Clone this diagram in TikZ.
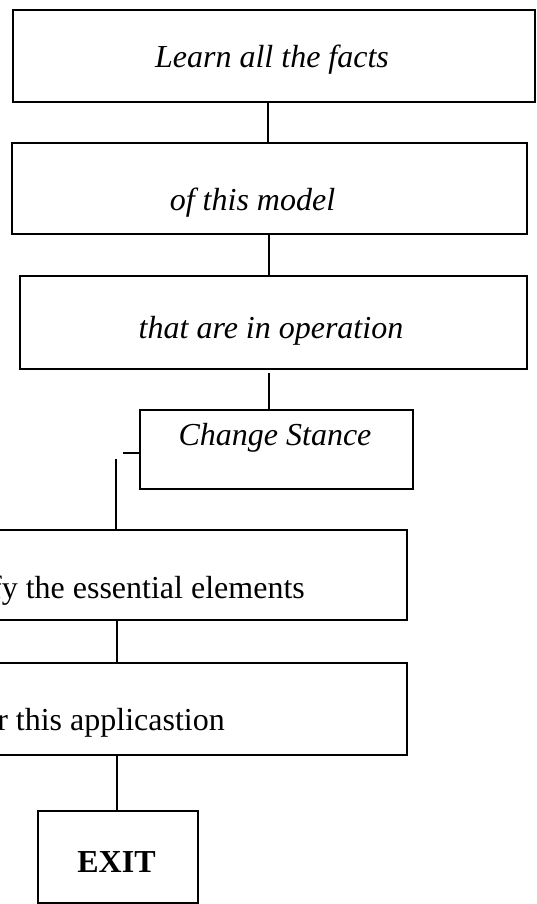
\documentclass[tikz,border=0pt]{standalone}
\usepackage{fontspec}
\setmainfont{Liberation Serif}
\begin{document}
\begin{tikzpicture}[x=1pt,y=-1pt,
  frame/.style={draw, line width=1.7pt, inner sep=0pt, outer sep=0pt},
  txt/.style={inner sep=0pt, anchor=base, font=\fontsize{32}{38}\selectfont},
  link/.style={draw, line width=1.7pt}]
  \useasboundingbox (0,0) rectangle (537,904);
  \clip (0,0) rectangle (537,904);

  % boxes of the chain
  \node[frame, minimum width=522pt, minimum height=92pt] (b1) at (274,56) {};
  \node[frame, minimum width=515pt, minimum height=91pt] (b2) at (269.5,188.5) {};
  \node[frame, minimum width=507pt, minimum height=93pt] (b3) at (273.5,322.5) {};
  \node[frame, minimum width=273pt, minimum height=79pt] (b4) at (276.5,449.5) {};
  \node[frame, minimum width=427pt, minimum height=90pt] (b5) at (193.5,575) {};
  \node[frame, minimum width=427pt, minimum height=92pt] (b6) at (193.5,709) {};
  \node[frame, minimum width=160pt, minimum height=92pt] (b7) at (118,857) {};

  % labels
  \node[txt] (t1) at (272,68) {\itshape Learn all the facts};
  \node[txt] (t2) at (252.5,210) {\itshape of this model};
  \node[txt] (t3) at (271,338) {\itshape that are in operation};
  \node[txt] (t4) at (275,445) {\itshape Change Stance};
  \node[txt, anchor=base east] (t5) at (305,598) {fy the essential elements};
  \node[txt, anchor=base east] (t6) at (225,730) {r this applicastion};
  \node[txt] (t7) at (116.5,872) {\bfseries EXIT};

  % connector columns
  \coordinate (cA) at (268,0);
  \coordinate (cB) at (269,0);
  \coordinate (cC) at (117,0);
  \coordinate (k1) at (123,453);
  \coordinate (k2) at (116,459);

  \draw[link] (b1.south -| cA) -- (b2.north -| cA);
  \draw[link] (b2.south -| cB) -- (b3.north -| cB);
  \draw[link] ([yshift=-4pt]b3.south -| cB) -- (b4.north -| cB);
  \draw[link] (b4.west |- k1) -- (k1);
  \draw[link] (k2) -- (b5.north -| k2);
  \draw[link] (b5.south -| cC) -- (b6.north -| cC);
  \draw[link] (b6.south -| cC) -- (b7.north -| cC);
\end{tikzpicture}
\end{document}
